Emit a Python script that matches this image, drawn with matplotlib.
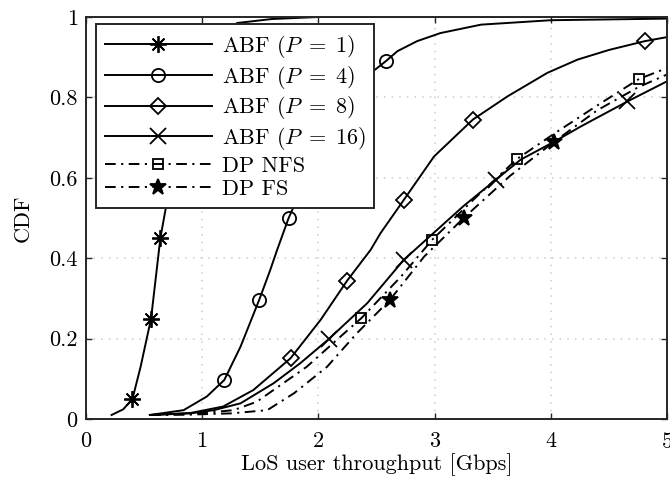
import matplotlib
matplotlib.use("Agg")
import matplotlib.pyplot as plt
import numpy as np

plt.rcParams['font.family'] = 'serif'
plt.rcParams['font.serif'] = ['cmr10']
plt.rcParams['mathtext.fontset'] = 'cm'
plt.rcParams['axes.formatter.use_mathtext'] = True

# CDF curves: throughput [Gbps] and CDF value
p1_x = [0.22, 0.32, 0.40, 0.47, 0.56, 0.64, 0.69, 0.75, 0.85, 0.95, 1.05, 1.15, 1.30, 1.60, 2.00, 5.00]
p1_y = [0.01, 0.024, 0.05, 0.13, 0.25, 0.45, 0.53, 0.65, 0.78, 0.85, 0.91, 0.95, 0.985, 0.995, 1.0, 1.0]
p1_marks = [0.05, 0.25, 0.45, 0.65, 0.85]

p4_x = [0.55, 0.84, 1.04, 1.19, 1.33, 1.49, 1.586, 1.644, 1.744, 1.79, 1.90, 2.03, 2.20, 2.47, 2.58,
        2.68, 2.85, 3.05, 3.40, 4.00, 5.00]
p4_y = [0.01, 0.022, 0.056, 0.097, 0.18, 0.296, 0.371, 0.42, 0.50, 0.53, 0.62, 0.70, 0.78, 0.865, 0.89,
        0.915, 0.94, 0.96, 0.981, 0.992, 0.996]
p4_marks = [0.097, 0.296, 0.50, 0.70, 0.89]

p8_x = [0.55, 0.90, 1.18, 1.44, 1.76, 2.02, 2.247, 2.45, 2.534, 2.735, 2.995, 3.33, 3.63, 3.97, 4.23,
        4.50, 4.81, 5.02]
p8_y = [0.01, 0.015, 0.031, 0.072, 0.151, 0.247, 0.344, 0.421, 0.462, 0.545, 0.653, 0.745, 0.803, 0.861,
        0.894, 0.918, 0.94, 0.951]
p8_marks = [0.151, 0.344, 0.545, 0.745, 0.94]

p16_x = [0.55, 0.90, 1.10, 1.33, 1.615, 1.845, 2.09, 2.42, 2.735, 3.00, 3.25, 3.526, 3.74, 4.03, 4.26,
         4.66, 5.00]
p16_y = [0.01, 0.014, 0.022, 0.039, 0.089, 0.139, 0.199, 0.288, 0.396, 0.465, 0.53, 0.595, 0.645, 0.69,
         0.728, 0.79, 0.84]
p16_marks = [0.199, 0.396, 0.595, 0.79]

nfs_x = [0.55, 0.90, 1.27, 1.47, 1.90, 2.19, 2.37, 2.71, 2.98, 3.35, 3.71, 4.03, 4.40, 4.76, 5.00]
nfs_y = [0.01, 0.012, 0.022, 0.043, 0.13, 0.205, 0.251, 0.354, 0.446, 0.55, 0.647, 0.71, 0.78, 0.846, 0.873]
nfs_marks = [0.251, 0.446, 0.647, 0.846]

fs_x = [0.55, 0.90, 1.25, 1.56, 1.79, 2.075, 2.33, 2.615, 2.91, 3.25, 3.65, 4.03, 4.40, 4.75, 5.00]
fs_y = [0.01, 0.011, 0.014, 0.022, 0.064, 0.13, 0.213, 0.296, 0.404, 0.50, 0.605, 0.69, 0.768, 0.825, 0.857]
fs_marks = [0.296, 0.50, 0.69]

labels = [r'ABF ($P\;=\;1$)', r'ABF ($P\;=\;4$)', r'ABF ($P\;=\;8$)', r'ABF ($P\;=\;16$)', 'DP NFS', 'DP FS']
x_ticks = [0, 1, 2, 3, 4, 5]
y_ticks = [0, 0.2, 0.4, 0.6, 0.8, 1]
y_ticklabels = ['0', '0.2', '0.4', '0.6', '0.8', '1']


def mark_idx(ys, marks):
    return [int(np.argmin(np.abs(np.array(ys) - m))) for m in marks]


fig = plt.figure(figsize=(6.7, 4.8), dpi=100)
ax = fig.add_axes([86 / 670, 61 / 480, 581 / 670, 402 / 480])

dd = (5.5, 2.8, 1.1, 2.8)
series = [
    (p1_x, p1_y, p1_marks, dict(marker=(8, 2, 0), ms=12, ls='-')),
    (p4_x, p4_y, p4_marks, dict(marker='o', ms=9.5, mfc='none', ls='-')),
    (p8_x, p8_y, p8_marks, dict(marker='D', ms=8, mfc='none', ls='-')),
    (p16_x, p16_y, p16_marks, dict(marker='x', ms=11, ls='-')),
    (nfs_x, nfs_y, nfs_marks, dict(marker='s', ms=7.5, mfc='none', dashes=dd)),
    (fs_x, fs_y, fs_marks, dict(marker='*', ms=12, mfc='k', dashes=dd)),
]
for (xs, ys, marks, style), lab in zip(series, labels):
    ax.plot(xs, ys, color='k', lw=1.4, mew=1.3, markevery=mark_idx(ys, marks),
            label=lab, **style)

ax.set_xlim(0, 5)
ax.set_ylim(0, 1)
ax.set_xticks(x_ticks)
ax.set_yticks(y_ticks)
ax.set_yticklabels(y_ticklabels)
ax.grid(True, color='0.8', linestyle=(0, (1, 4)), lw=1.1)
ax.tick_params(direction='in', top=True, right=True, length=4, width=1,
               labelsize=16, colors='0.15', labelcolor='k')
ax.tick_params(axis='x', pad=9)
ax.tick_params(axis='y', pad=6)
for s in ax.spines.values():
    s.set_linewidth(1.4)
    s.set_color('0.15')

ax.set_xlabel('LoS user throughput [Gbps]', fontsize=16, labelpad=1)
ax.set_ylabel('CDF', fontsize=16, labelpad=12)

leg = ax.legend(loc='upper left', bbox_to_anchor=(10 / 581, 1 - 7 / 402), borderaxespad=0,
                fontsize=16, handlelength=4.8, handletextpad=0.45, fancybox=False,
                framealpha=1, edgecolor='0.15', labelspacing=0.17, borderpad=0.4)
leg.get_frame().set_linewidth(1.4)

fig.savefig('out.png', dpi=100)
